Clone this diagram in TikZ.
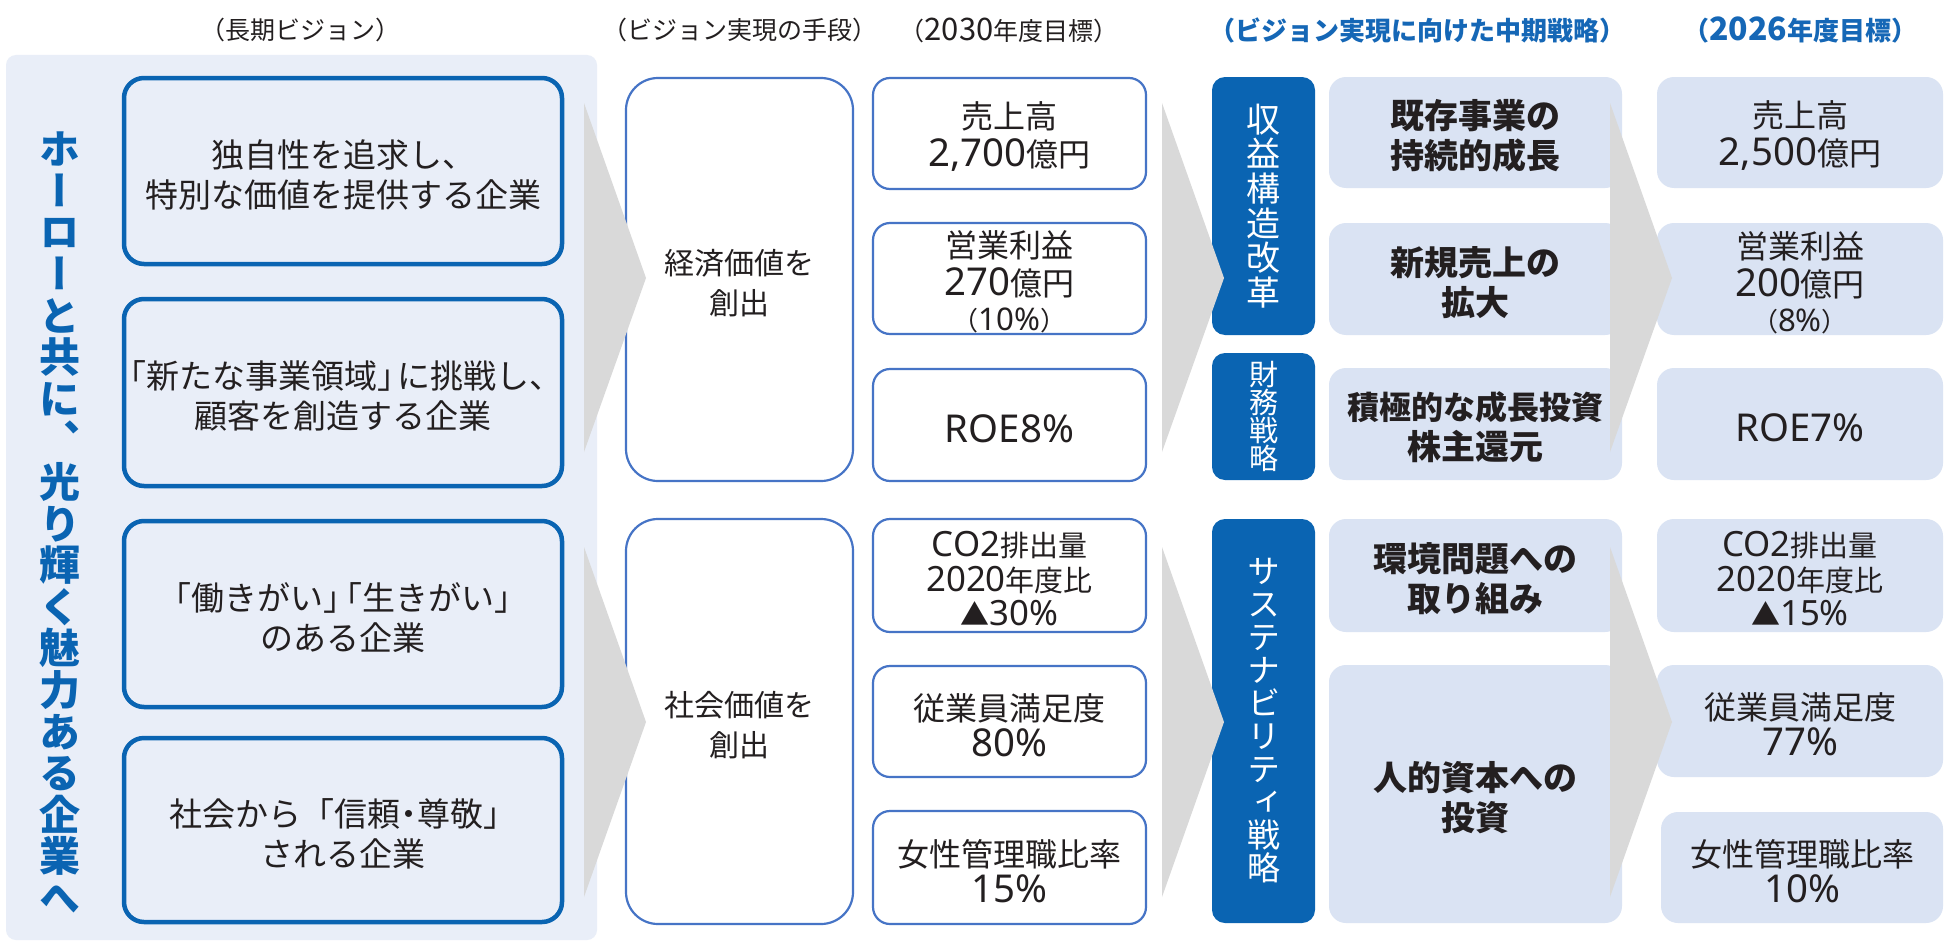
\documentclass[tikz,border=0pt]{standalone}
\usepackage{fontspec}
\setmainfont{Noto Sans CJK JP}
\newfontfamily\jpv[RawFeature=+vert]{Noto Sans CJK JP}
\newfontfamily\lat[Scale=1.2]{Noto Sans}
\usetikzlibrary{fit}
\newcommand\fs[2]{\fontsize{#1}{#2}\selectfont\lineskiplimit=-100pt\relax}
\newcommand\kk{\kern-.42em}
\definecolor{panelbg}{HTML}{E9EEF8}
\definecolor{deepblue}{HTML}{0A64B2}
\definecolor{thinblue}{HTML}{4674C6}
\definecolor{lightbox}{HTML}{DAE3F3}
\definecolor{chev}{HTML}{D9D9D9}
\definecolor{ink}{HTML}{231F20}
\definecolor{titleblue}{HTML}{1567B6}
\begin{document}
\begin{tikzpicture}[x=1pt,y=-1pt,
  every node/.style={inner sep=0pt, outer sep=0pt},
  panel/.style={fill=panelbg, rounded corners=10pt},
  visionbox/.style={draw=deepblue, line width=4.5pt, rounded corners=20pt},
  meansbox/.style={draw=thinblue, line width=2.2pt, fill=white, rounded corners=32pt},
  goalbox/.style={draw=thinblue, line width=2.2pt, fill=white, rounded corners=17pt},
  darkbox/.style={fill=deepblue, rounded corners=13pt},
  stratbox/.style={fill=lightbox, rounded corners=17pt},
  chevron/.style={fill=chev},
  lbl/.style={text=ink, align=center, yshift=-3.5pt},
  ttl/.style={text=ink, font=\fs{25}{30}},
  ttlb/.style={text=titleblue, font=\bfseries\fs{26}{30}},
  visiontxt/.style={lbl, font=\fs{33}{40}},
  meanstxt/.style={lbl, font=\fs{30}{40}},
  goaltxt/.style={lbl, font=\fs{32}{38}},
  co2txt/.style={lbl, font=\fs{29}{34.5}},
  strattxt/.style={lbl, font=\bfseries\fs{34}{40}},
  darktxt/.style={text=white, align=center}
]
\useasboundingbox (0,0) rectangle (1945,942);
\fill[white] (0,0) rectangle (1945,942);

% titles
\node[ttl] (h1) at (300,30) {（長期ビジョン）};
\node[ttl] (h2) at (740,30) {（ビジョン実現の手段）};
\node[ttl] (h3) at (1009,30) {（{\fontsize{31}{30}\selectfont 2030}年度目標）};
\node[ttlb] (h4) at (1417,30) {（ビジョン実現に向けた中期戦略）};
\node[ttlb] (h5) at (1800,30) {（{\fontsize{32}{30}\selectfont 2026}年度目標）};

% left panel
\node[panel, fit={(6,55) (597,940)}] (pnl) {};
\node[text=deepblue, font=\jpv\bfseries\fs{41}{41.6}, align=center, anchor=north] (slogan) at (60,132)
  {ホ\\ー\\ロ\\ー\\と\\共\\に\\、\\光\\り\\輝\\く\\魅\\力\\あ\\る\\企\\業\\へ};

% vision boxes
\node[visionbox, fit={(124,78) (562,264)}] (v1) {};
\node[visionbox, fit={(124,299) (562,486)}] (v2) {};
\node[visionbox, fit={(124,521) (562,707)}] (v3) {};
\node[visionbox, fit={(124,738) (562,922)}] (v4) {};
\node[visiontxt] (v1t) at (v1) {独自性を追求し、\\特別な価値を提供する企業};
\node[visiontxt] (v2t) at (v2) {\kern-.3em「新たな事業領域」\kk に挑戦し、\\顧客を創造する企業};
\node[visiontxt] (v3t) at (v3) {「働きがい」\kk\kk「生きがい」\\のある企業};
\node[visiontxt] (v4t) at (v4) {社会から「信頼\kern-.25em・\kern-.25em尊敬」\\される企業};

% means boxes
\node[meansbox, fit={(626,78) (853,481)}] (m1) {};
\node[meansbox, fit={(626,519) (853,924)}] (m2) {};
\node[meanstxt] (m1t) at (m1) {経済価値を\\創出};
\node[meanstxt] (m2t) at (m2) {社会価値を\\創出};

% 2030 goals
\node[goalbox, fit={(873,78) (1146,189)}] (g1) {};
\node[goalbox, fit={(873,223) (1146,334)}] (g2) {};
\node[goalbox, fit={(873,369) (1146,481)}] (g3) {};
\node[goalbox, fit={(873,519) (1146,632)}] (g4) {};
\node[goalbox, fit={(873,666) (1146,777)}] (g5) {};
\node[goalbox, fit={(873,811) (1146,924)}] (g6) {};
\node[goaltxt] (g1t) at (g1) {売上高\\{\lat 2,700}億円};
\node[goaltxt] (g2t) at (g2) {営業利益\\{\lat 270}億円\\[-3pt]{\fs{26}{30}（{\lat 10\%}）}};
\node[goaltxt] (g3t) at (g3) {{\lat ROE8\%}};
\node[co2txt] (g4t) at (g4) {{\lat CO2}排出量\\{\lat 2020}年度比\\▲{\lat 30\%}};
\node[goaltxt] (g5t) at (g5) {従業員満足度\\[-2pt]{\lat 80\%}};
\node[goaltxt] (g6t) at (g6) {女性管理職比率\\[-2pt]{\lat 15\%}};

% strategy labels
\node[darkbox, fit={(1212,77) (1315,335)}] (d1) {};
\node[darkbox, fit={(1212,353) (1315,480)}] (d2) {};
\node[darkbox, fit={(1212,519) (1315,923)}] (d3) {};
\node[darktxt, font=\jpv\fs{34}{34.7}] (d1t) at (d1) {収\\益\\構\\造\\改\\革};
\node[darktxt, font=\jpv\fs{29}{28}] (d2t) at (d2) {財\\務\\戦\\略};
\node[darktxt, font=\jpv\fs{33}{33}] (d3t) at (d3) {サ\\ス\\テ\\ナ\\ビ\\リ\\テ\\ィ\\戦\\略};

% strategy boxes
\node[stratbox, fit={(1329,77) (1622,188)}] (s1) {};
\node[stratbox, fit={(1329,223) (1622,335)}] (s2) {};
\node[stratbox, fit={(1329,368) (1622,480)}] (s3) {};
\node[stratbox, fit={(1329,519) (1622,632)}] (s4) {};
\node[stratbox, fit={(1329,665) (1622,923)}] (s5) {};

% 2026 targets
\node[stratbox, fit={(1657,77) (1943,188)}] (r1) {};
\node[stratbox, fit={(1657,223) (1943,335)}] (r2) {};
\node[stratbox, fit={(1657,368) (1943,480)}] (r3) {};
\node[stratbox, fit={(1657,519) (1943,632)}] (r4) {};
\node[stratbox, fit={(1657,665) (1943,777)}] (r5) {};
\node[stratbox, fit={(1661,812) (1943,923)}] (r6) {};

% chevrons (drawn over box edges)
\fill[chevron] (584,103) -- (646,278) -- (584,452) -- cycle;
\fill[chevron] (584,547) -- (646,722) -- (584,897) -- cycle;
\fill[chevron] (1162,103) -- (1224,278) -- (1162,452) -- cycle;
\fill[chevron] (1162,547) -- (1224,722) -- (1162,897) -- cycle;
\fill[chevron] (1610,103) -- (1672,278) -- (1610,452) -- cycle;
\fill[chevron] (1610,547) -- (1672,722) -- (1610,897) -- cycle;

% strategy texts
\node[strattxt] (s1t) at (s1) {既存事業の\\持続的成長};
\node[strattxt] (s2t) at (s2) {新規売上の\\拡大};
\node[strattxt] (s3t) at (s3) {{\fs{32}{40}積極的な成長投資}\\株主還元};
\node[strattxt] (s4t) at (s4) {環境問題への\\取り組み};
\node[strattxt] (s5t) at (s5) {人的資本への\\投資};

% 2026 target texts
\node[goaltxt] (r1t) at (r1) {売上高\\{\lat 2,500}億円};
\node[goaltxt] (r2t) at (r2) {営業利益\\{\lat 200}億円\\[-3pt]{\fs{26}{30}（{\lat 8\%}）}};
\node[goaltxt] (r3t) at (r3) {{\lat ROE7\%}};
\node[co2txt] (r4t) at (r4) {{\lat CO2}排出量\\{\lat 2020}年度比\\▲{\lat 15\%}};
\node[goaltxt] (r5t) at (r5) {従業員満足度\\[-2pt]{\lat 77\%}};
\node[goaltxt] (r6t) at (r6) {女性管理職比率\\[-2pt]{\lat 10\%}};
\end{tikzpicture}
\end{document}
